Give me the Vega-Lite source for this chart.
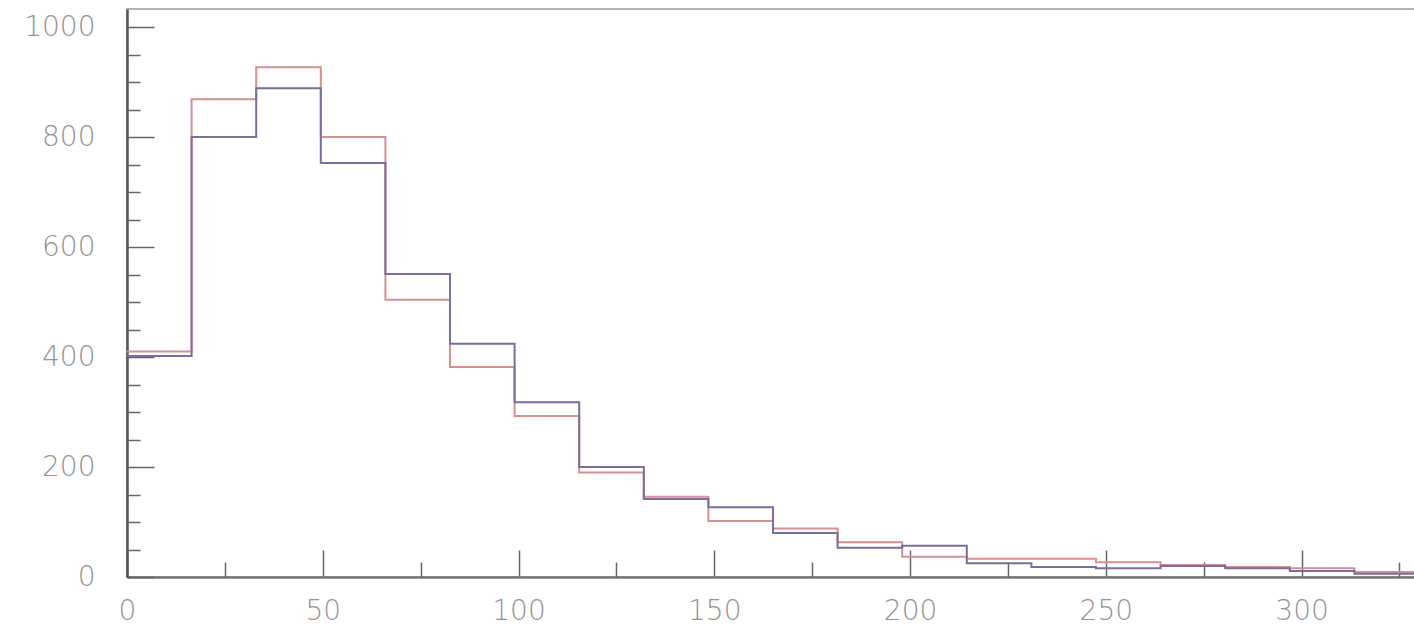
{
  "$schema": "https://vega.github.io/schema/vega-lite/v6.json",
  "width": 1292,
  "height": 568,
  "autosize": {"type": "none"},
  "padding": {"left": 127, "top": 9, "right": 0, "bottom": 48},
  "background": "white",
  "config": {
    "view": {"stroke": "#9a9a9a", "strokeWidth": 1.5},
    "axis": {"grid": false, "title": null}
  },
  "data": {
    "values": [
      {"series": "red", "bin_start": 0, "bin_end": 16.5, "count": 410},
      {"series": "red", "bin_start": 16.5, "bin_end": 33, "count": 869},
      {"series": "red", "bin_start": 33, "bin_end": 49.5, "count": 927},
      {"series": "red", "bin_start": 49.5, "bin_end": 66, "count": 800},
      {"series": "red", "bin_start": 66, "bin_end": 82.5, "count": 504},
      {"series": "red", "bin_start": 82.5, "bin_end": 99, "count": 382},
      {"series": "red", "bin_start": 99, "bin_end": 115.5, "count": 293},
      {"series": "red", "bin_start": 115.5, "bin_end": 132, "count": 190},
      {"series": "red", "bin_start": 132, "bin_end": 148.5, "count": 146},
      {"series": "red", "bin_start": 148.5, "bin_end": 165, "count": 102},
      {"series": "red", "bin_start": 165, "bin_end": 181.5, "count": 88},
      {"series": "red", "bin_start": 181.5, "bin_end": 198, "count": 63},
      {"series": "red", "bin_start": 198, "bin_end": 214.5, "count": 37},
      {"series": "red", "bin_start": 214.5, "bin_end": 231, "count": 33},
      {"series": "red", "bin_start": 231, "bin_end": 247.5, "count": 33},
      {"series": "red", "bin_start": 247.5, "bin_end": 264, "count": 27},
      {"series": "red", "bin_start": 264, "bin_end": 280.5, "count": 22},
      {"series": "red", "bin_start": 280.5, "bin_end": 297, "count": 18},
      {"series": "red", "bin_start": 297, "bin_end": 313.5, "count": 16},
      {"series": "red", "bin_start": 313.5, "bin_end": 330, "count": 9},
      {"series": "blue", "bin_start": 0, "bin_end": 16.5, "count": 402},
      {"series": "blue", "bin_start": 16.5, "bin_end": 33, "count": 800},
      {"series": "blue", "bin_start": 33, "bin_end": 49.5, "count": 889},
      {"series": "blue", "bin_start": 49.5, "bin_end": 66, "count": 753},
      {"series": "blue", "bin_start": 66, "bin_end": 82.5, "count": 551},
      {"series": "blue", "bin_start": 82.5, "bin_end": 99, "count": 424},
      {"series": "blue", "bin_start": 99, "bin_end": 115.5, "count": 318},
      {"series": "blue", "bin_start": 115.5, "bin_end": 132, "count": 200},
      {"series": "blue", "bin_start": 132, "bin_end": 148.5, "count": 142},
      {"series": "blue", "bin_start": 148.5, "bin_end": 165, "count": 127},
      {"series": "blue", "bin_start": 165, "bin_end": 181.5, "count": 80},
      {"series": "blue", "bin_start": 181.5, "bin_end": 198, "count": 53},
      {"series": "blue", "bin_start": 198, "bin_end": 214.5, "count": 57},
      {"series": "blue", "bin_start": 214.5, "bin_end": 231, "count": 25},
      {"series": "blue", "bin_start": 231, "bin_end": 247.5, "count": 18},
      {"series": "blue", "bin_start": 247.5, "bin_end": 264, "count": 16},
      {"series": "blue", "bin_start": 264, "bin_end": 280.5, "count": 20},
      {"series": "blue", "bin_start": 280.5, "bin_end": 297, "count": 16},
      {"series": "blue", "bin_start": 297, "bin_end": 313.5, "count": 11},
      {"series": "blue", "bin_start": 313.5, "bin_end": 330, "count": 6}
    ]
  },
  "transform": [
    {"fold": ["bin_start", "bin_end"], "as": ["edge", "xpos"]}
  ],
  "resolve": {"axis": {"x": "independent", "y": "independent"}},
  "layer": [
    {
      "transform": [{"filter": "datum.series === 'red'"}],
      "mark": {"type": "line", "stroke": "#d99090", "strokeWidth": 2, "clip": true},
      "encoding": {
        "x": {
          "field": "xpos", "type": "quantitative",
          "scale": {"domain": [0, 330], "nice": false, "zero": false},
          "axis": {
            "orient": "bottom",
            "values": [0, 50, 100, 150, 200, 250, 300],
            "format": "d",
            "tickSize": -27, "tickColor": "#666", "tickWidth": 1.5,
            "domainColor": "#777", "domainWidth": 2.5,
            "labelPadding": 47, "labelFontSize": 28, "labelColor": "#949494",
            "labelFont": "DejaVu Sans", "labelFontWeight": 300, "labelFlush": false
          }
        },
        "y": {
          "field": "count", "type": "quantitative",
          "scale": {"domain": [0, 1033], "nice": false},
          "axis": {
            "orient": "left",
            "values": [0, 200, 400, 600, 800, 1000],
            "format": "d",
            "tickSize": -27, "tickColor": "#666", "tickWidth": 1.5,
            "domainColor": "#555", "domainWidth": 2.5,
            "labelPadding": 59, "labelFontSize": 28, "labelColor": "#949494",
            "labelFont": "DejaVu Sans", "labelFontWeight": 300
          }
        },
        "order": [{"field": "xpos", "type": "quantitative"}, {"field": "edge", "type": "nominal"}]
      }
    },
    {
      "transform": [{"filter": "datum.series === 'blue'"}],
      "mark": {"type": "line", "stroke": "#7a6ea0", "strokeWidth": 2, "clip": true},
      "encoding": {
        "x": {
          "field": "xpos", "type": "quantitative",
          "scale": {"domain": [0, 330], "nice": false, "zero": false},
          "axis": {
            "orient": "bottom",
            "values": [25, 75, 125, 175, 225, 275, 325],
            "tickSize": -15, "tickColor": "#666", "tickWidth": 1.5,
            "domain": false, "labels": false
          }
        },
        "y": {
          "field": "count", "type": "quantitative",
          "scale": {"domain": [0, 1033], "nice": false},
          "axis": {
            "orient": "left",
            "values": [50, 100, 150, 250, 300, 350, 450, 500, 550, 650, 700, 750, 850, 900, 950],
            "tickSize": -13, "tickColor": "#666", "tickWidth": 1.5,
            "domain": false, "labels": false
          }
        },
        "order": [{"field": "xpos", "type": "quantitative"}, {"field": "edge", "type": "nominal"}]
      }
    }
  ]
}
